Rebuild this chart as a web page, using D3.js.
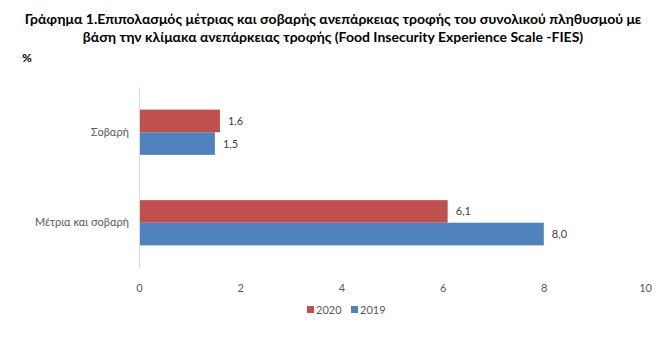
<!DOCTYPE html>
<html><head><meta charset="utf-8">
<script src="https://cdn.jsdelivr.net/npm/d3@7"></script>
<style>body{margin:0;background:#fff;} svg{display:block;}</style>
</head><body>
<script>
const categories = ["Σοβαρή", "Μέτρια και σοβαρή"];
const seriesNames = ["2020", "2019"];
const values2020 = [1.6, 6.1];
const values2019 = [1.5, 8.0];
const valueLabels2020 = ["1,6", "6,1"];
const valueLabels2019 = ["1,5", "8,0"];
const xTicks = [0, 2, 4, 6, 8, 10];
const colors = ["#C0504D", "#4F81BD"];
const titleLines = ["Γράφημα 1.Επιπολασμός μέτριας και σοβαρής ανεπάρκειας τροφής του συνολικού πληθυσμού με",
  "βάση την κλίμακα ανεπάρκειας τροφής (Food Insecurity Experience Scale -FIES)"];

const W = 671, H = 346;
const svg = d3.select("body").append("svg").attr("width", W).attr("height", H);
const font = "Lato, 'Open Sans', sans-serif";

svg.selectAll("text.title").data(titleLines).enter().append("text")
  .attr("x", 333).attr("y", (d, i) => 24 + i * 18)
  .attr("text-anchor", "middle").attr("font-family", font).attr("font-weight", "bold")
  .attr("font-size", 14).attr("fill", "#000").text(d => d);
svg.append("text").attr("x", 22).attr("y", 62).attr("font-family", font)
  .attr("font-size", 12).attr("font-weight", "bold").attr("fill", "#000").text("%");

const x = d3.scaleLinear().domain([0, 10]).range([139, 645]);
const y = d3.scaleBand().domain(categories).range([87, 268]).paddingInner(0.5).paddingOuter(0.25);
const ySub = d3.scaleBand().domain(seriesNames).range([0, y.bandwidth()]);

const data = categories.map((c, i) => ({cat: c, vals: [
  {s: "2020", v: values2020[i], lab: valueLabels2020[i]},
  {s: "2019", v: values2019[i], lab: valueLabels2019[i]}]}));

const g = svg.selectAll("g.cat").data(data).enter().append("g")
  .attr("transform", d => `translate(0,${y(d.cat)})`);
g.selectAll("rect").data(d => d.vals).enter().append("rect")
  .attr("x", x(0)).attr("y", d => ySub(d.s)).attr("width", d => x(d.v) - x(0))
  .attr("height", ySub.bandwidth()).attr("fill", (d, i) => colors[i]);
g.selectAll("text").data(d => d.vals).enter().append("text")
  .attr("x", d => x(d.v) + 8).attr("y", d => ySub(d.s) + ySub.bandwidth() / 2 + 4)
  .attr("font-family", font).attr("font-size", 11).attr("fill", "#404040").text(d => d.lab);

// category axis
const yAxis = svg.append("g").attr("transform", `translate(${x(0)},0)`)
  .call(d3.axisLeft(y).tickSize(0).tickPadding(10));
yAxis.select(".domain").attr("stroke", "#D9D9D9");
yAxis.selectAll("text").attr("font-family", font).attr("font-size", 11).attr("fill", "#595959");

const xAxis = svg.append("g").attr("transform", `translate(0,268)`)
  .call(d3.axisBottom(x).tickValues(xTicks).tickSize(0).tickPadding(16).tickFormat(d3.format("d")));
xAxis.select(".domain").remove();
xAxis.selectAll("text").attr("font-family", font).attr("font-size", 11).attr("fill", "#595959");

const leg = svg.append("g").attr("transform", "translate(307,305)");
const li = leg.selectAll("g").data(seriesNames).enter().append("g")
  .attr("transform", (d, i) => `translate(${i * 44},0)`);
li.append("rect").attr("width", 7).attr("height", 7).attr("y", 1).attr("fill", (d, i) => colors[i]);
li.append("text").attr("x", 9).attr("y", 8.5).attr("font-family", font).attr("font-size", 11)
  .attr("fill", "#595959").text(d => d);
</script>
</body></html>
